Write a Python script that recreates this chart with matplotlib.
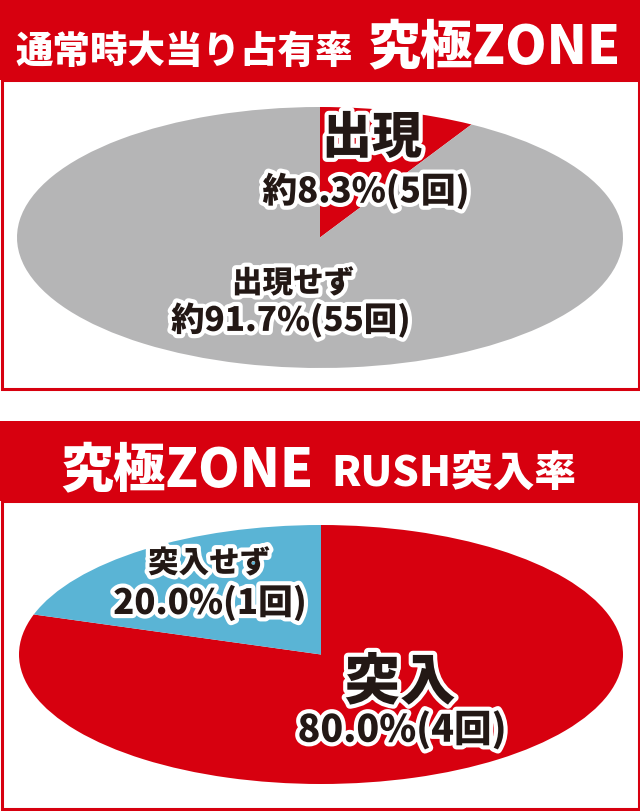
import matplotlib.pyplot as plt
import matplotlib.patheffects as pe
from matplotlib.patches import Rectangle

plt.rcParams['font.family'] = ['Noto Sans CJK JP', 'DejaVu Sans']

# Data
zone_labels = ['出現', '出現せず']
zone_counts = [5, 55]
zone_pct = [8.3, 91.7]

rush_labels = ['突入', '突入せず']
rush_counts = [4, 1]
rush_pct = [80.0, 20.0]

RED = '#D7000F'
GRAY = '#B5B5B6'
BLUE = '#5AB4D5'

W, H = 640, 811
fig = plt.figure(figsize=(W / 100, H / 100), dpi=100)

# background layer in pixel coordinates
bg = fig.add_axes([0, 0, 1, 1], zorder=0)
bg.set_xlim(0, W)
bg.set_ylim(H, 0)
bg.axis('off')

bg.add_patch(Rectangle((0, 0), W, 80, color=RED, lw=0))
bg.add_patch(Rectangle((1.5, 80), W - 3, 308.5, facecolor='white', edgecolor=RED, lw=2.2))
bg.add_patch(Rectangle((0, 421), W, 80, color=RED, lw=0))
bg.add_patch(Rectangle((1.5, 501), W - 3, 307.5, facecolor='white', edgecolor=RED, lw=2.2))


def pie_axes(x0, x1, y0, y1, values, colors):
    ax = fig.add_axes([x0 / W, 1 - y1 / H, (x1 - x0) / W, (y1 - y0) / H], zorder=1)
    ax.pie(values, colors=colors, startangle=90, counterclock=False,
           wedgeprops={'linewidth': 0})
    ax.set_aspect('auto')
    ax.set_xlim(-1, 1)
    ax.set_ylim(-1, 1)
    ax.axis('off')
    return ax


pie_axes(17, 623, 107, 368, zone_counts, [RED, GRAY])
pie_axes(19, 623, 525, 784, rush_counts, [RED, BLUE])

# text layer
top = fig.add_axes([0, 0, 1, 1], zorder=2)
top.set_xlim(0, W)
top.set_ylim(H, 0)
top.axis('off')
top.patch.set_alpha(0)

# headers
top.text(16, 63, '通常時大当り占有率', color='white', fontsize=27, fontweight='black',
         ha='left', va='baseline')
top.text(367, 63, '究極ZONE', color='white', fontsize=38, fontweight='black',
         ha='left', va='baseline')
top.text(60, 486, '究極ZONE', color='white', fontsize=38, fontweight='black',
         ha='left', va='baseline')
top.text(331, 486, 'RUSH突入率', color='white', fontsize=30, fontweight='black',
         ha='left', va='baseline')

stroke = [pe.withStroke(linewidth=6, foreground='white')]


def label(x, y, s, size):
    top.text(x, y, s, fontsize=size, fontweight='black', color='#231815',
             ha='center', va='center', path_effects=stroke)


label(372, 138, zone_labels[0], 36)
label(366, 191, f'約{zone_pct[0]}%({zone_counts[0]}回)', 25)
label(293, 283, zone_labels[1], 22)
label(291, 320, f'約{zone_pct[1]}%({zone_counts[1]}回)', 24)

label(400, 683, rush_labels[0], 40)
label(402, 730, f'{rush_pct[0]:.1f}%({rush_counts[0]}回)', 27)
label(209, 563, rush_labels[1], 22)
label(210, 603, f'{rush_pct[1]:.1f}%({rush_counts[1]}回)', 25)

fig.savefig('out.png', dpi=100)
